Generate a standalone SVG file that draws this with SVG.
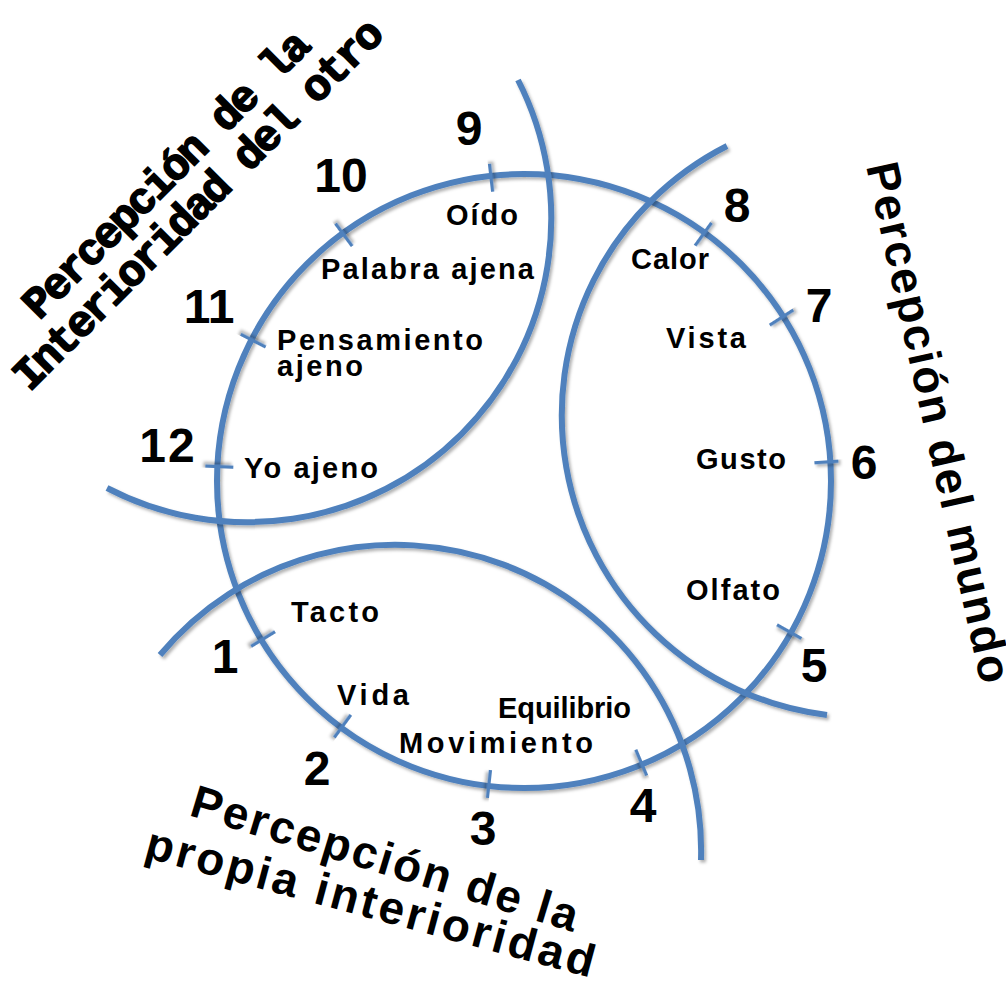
<svg xmlns="http://www.w3.org/2000/svg" width="1006" height="987" viewBox="0 0 1006 987">
<style>
.ln{fill:none;stroke:#4F81BD;stroke-width:6;filter:url(#sh)}
.tk{stroke:#4F81BD;stroke-width:6.5;filter:url(#sh)}
.lb{font-family:"Liberation Sans",Arial,sans-serif;font-weight:bold;font-size:29px;fill:#000}
.num{font-family:"Liberation Sans",Arial,sans-serif;font-weight:bold;font-size:48px;fill:#000;text-anchor:middle}
.tt{font-family:"Liberation Sans",Arial,sans-serif;font-weight:bold;font-size:46px;fill:#000}
.ts{font-family:"Liberation Mono","Courier New",monospace;font-weight:bold;font-size:44px;fill:#000;stroke:#000;stroke-width:1.6;text-anchor:middle}
</style>
<defs>
<filter id="sh" filterUnits="userSpaceOnUse" x="0" y="0" width="1006" height="987">
<feDropShadow dx="2" dy="2.5" stdDeviation="1.5" flood-color="#000" flood-opacity="0.3"/>
</filter>
</defs>
<rect width="1006" height="987" fill="#fff"/>
<g id="connectors">
<circle class="ln" cx="524" cy="481" r="307"/>
<path class="ln" d="M 107 488 A 304 304 0 0 0 518 80"/>
<path class="ln" d="M 727 146 A 302 302 0 0 0 827 715"/>
<path class="ln" d="M 160 655 A 306 306 0 0 1 701 860"/>
</g>
<g id="ticks">
<line class="tk" x1="0" y1="0" x2="28" y2="0" transform="translate(524 481) rotate(-96.5) translate(291 0)"/>
<line class="tk" x1="0" y1="0" x2="28" y2="0" transform="translate(524 481) rotate(-126.5) translate(291 0)"/>
<line class="tk" x1="0" y1="0" x2="28" y2="0" transform="translate(524 481) rotate(-152.9) translate(291 0)"/>
<line class="tk" x1="0" y1="0" x2="28" y2="0" transform="translate(524 481) rotate(-177.6) translate(291 0)"/>
<line class="tk" x1="0" y1="0" x2="28" y2="0" transform="translate(524 481) rotate(148.5) translate(291 0)"/>
<line class="tk" x1="0" y1="0" x2="28" y2="0" transform="translate(524 481) rotate(126.2) translate(291 0)"/>
<line class="tk" x1="0" y1="0" x2="28" y2="0" transform="translate(524 481) rotate(96.3) translate(291 0)"/>
<line class="tk" x1="0" y1="0" x2="28" y2="0" transform="translate(524 481) rotate(67.1) translate(291 0)"/>
<line class="tk" x1="0" y1="0" x2="28" y2="0" transform="translate(524 481) rotate(29.3) translate(291 0)"/>
<line class="tk" x1="0" y1="0" x2="24" y2="0" transform="translate(524 481) rotate(-3.9) translate(291 0)"/>
<line class="tk" x1="0" y1="0" x2="28" y2="0" transform="translate(524 481) rotate(-32.7) translate(291 0)"/>
<line class="tk" x1="0" y1="0" x2="28" y2="0" transform="translate(524 481) rotate(-54.3) translate(291 0)"/>
</g>
<g id="numbers">
<text class="num" x="469" y="145">9</text>
<text class="num" x="341" y="192">10</text>
<text class="num" x="209" y="323">11</text>
<text class="num" x="168" y="462" letter-spacing="2">12</text>
<text class="num" x="225" y="673">1</text>
<text class="num" x="317" y="785">2</text>
<text class="num" x="483" y="845">3</text>
<text class="num" x="643" y="822">4</text>
<text class="num" x="814" y="682">5</text>
<text class="num" x="864" y="479">6</text>
<text class="num" x="819" y="322">7</text>
<text class="num" x="737" y="222">8</text>
</g>
<g id="labels">
<text class="lb" x="446" y="225" textLength="72" lengthAdjust="spacing">Oído</text>
<text class="lb" x="321" y="279" textLength="213" lengthAdjust="spacing">Palabra ajena</text>
<text class="lb" x="277" y="350" textLength="206" lengthAdjust="spacing">Pensamiento</text>
<text class="lb" x="277" y="376" textLength="86" lengthAdjust="spacing">ajeno</text>
<text class="lb" x="244" y="478" textLength="134" lengthAdjust="spacing">Yo ajeno</text>
<text class="lb" x="631" y="269" textLength="78" lengthAdjust="spacing">Calor</text>
<text class="lb" x="666" y="348" textLength="80" lengthAdjust="spacing">Vista</text>
<text class="lb" x="696" y="469" textLength="90" lengthAdjust="spacing">Gusto</text>
<text class="lb" x="686" y="600" textLength="94" lengthAdjust="spacing">Olfato</text>
<text class="lb" x="291" y="622" textLength="88" lengthAdjust="spacing">Tacto</text>
<text class="lb" x="337" y="705" textLength="72" lengthAdjust="spacing">Vida</text>
<text class="lb" x="498" y="718" textLength="133" lengthAdjust="spacing">Equilibrio</text>
<text class="lb" x="399" y="753" textLength="194" lengthAdjust="spacing">Movimiento</text>
</g>
<g id="title-otro">
<text class="ts" transform="translate(176 184) rotate(-45)" textLength="387" lengthAdjust="spacing">Percepción de la</text>
<text class="ts" transform="translate(208 214) rotate(-45)" textLength="504" lengthAdjust="spacing">Interioridad del otro</text>
</g>
<g id="title-mundo">
<text class="tt" transform="translate(866 166) rotate(77.5)" textLength="532" lengthAdjust="spacing">Percepción del mundo</text>
</g>
<g id="title-propia">
<text class="tt" transform="translate(188 815) rotate(16.9)" textLength="402" lengthAdjust="spacing">Percepción de la</text>
<text class="tt" transform="translate(143 857) rotate(15.1)" textLength="463" lengthAdjust="spacing">propia interioridad</text>
</g>
</svg>
